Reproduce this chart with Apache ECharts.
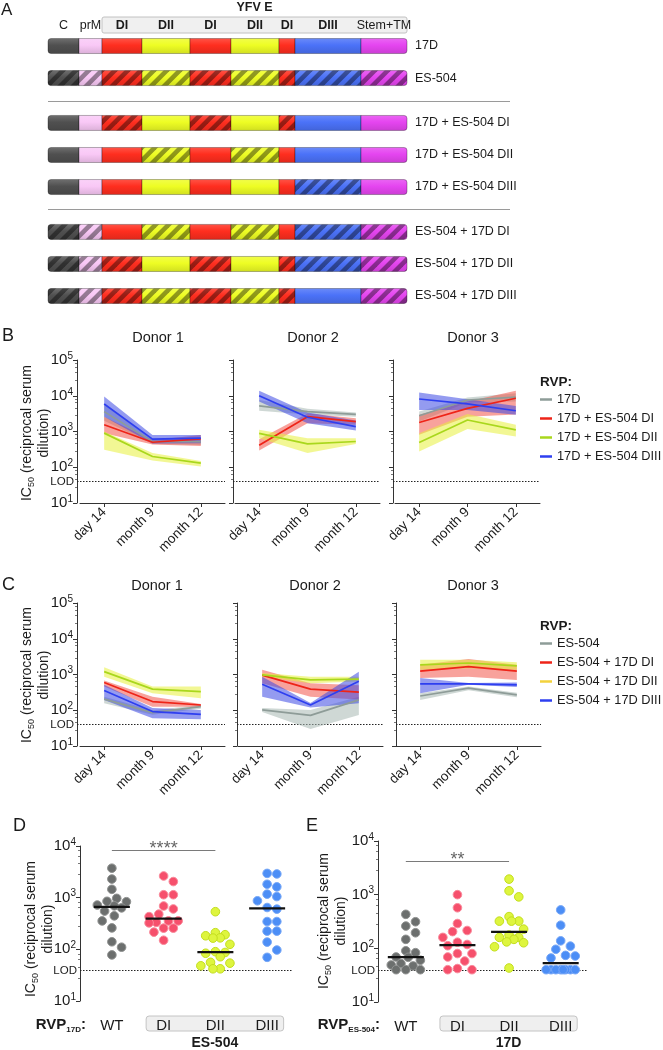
<!DOCTYPE html>
<html><head><meta charset="utf-8">
<script src="https://cdn.jsdelivr.net/npm/echarts@6/dist/echarts.min.js"></script>
<style>html,body{margin:0;padding:0;background:#fff}#c{width:663px;height:1050px}</style>
</head><body><div id="c"></div>
<script>
// ================= DATA =================
// Panel A: YFV genome segments
const segNames = ['C','prM','DI','DII','DI','DII','DI','DIII','Stem+TM'];
const segLengths = [31, 23, 40, 48, 41, 48, 16, 66, 46];
const constructNames = ['17D','ES-504','17D + ES-504 DI','17D + ES-504 DII','17D + ES-504 DIII','ES-504 + 17D DI','ES-504 + 17D DII','ES-504 + 17D DIII'];
const constructGroups = [0,0,1,1,1,2,2,2];
// 1 = segment from ES-504 (hatched), 0 = from 17D
const constructHatch = [
  [0,0,0,0,0,0,0,0,0],
  [1,1,1,1,1,1,1,1,1],
  [0,0,1,0,1,0,1,0,0],
  [0,0,0,1,0,1,0,0,0],
  [0,0,0,0,0,0,0,1,0],
  [1,1,0,1,0,1,0,1,1],
  [1,1,1,0,1,0,1,1,1],
  [1,1,1,1,1,1,1,0,1]
];
// Panels B / C
const timepoints = ['day 14','month 9','month 12'];
const donors = ['Donor 1','Donor 2','Donor 3'];
const rvpB = ['17D','17D + ES-504 DI','17D + ES-504 DII','17D + ES-504 DIII'];
const rvpC = ['ES-504','ES-504 + 17D DI','ES-504 + 17D DII','ES-504 + 17D DIII'];
const LOD = 40;
// per RVP (gray, red, yellow, blue), per timepoint
const b1Mid = [[3600,520,520],[1550,500,620],[900,200,130],[5900,610,650]];
const b1Lo  = [[2000,450,420],[900,430,390],[310,155,105],[2600,460,470]];
const b1Hi  = [[5500,620,650],[2600,580,800],[1000,250,150],[9500,800,800]];
const b2Mid = [[5200,3600,3000],[415,2600,1900],[890,450,525],[10000,2500,1370]];
const b2Lo  = [[3800,3000,2600],[295,1700,1540],[650,250,450],[6900,1700,1070]];
const b2Hi  = [[7600,4300,3400],[610,3200,2350],[1120,650,650],[13800,3400,2030]];
const b3Mid = [[2750,7600,9100],[1780,4450,8500],[490,2100,1110],[8100,5900,3800]];
const b3Lo  = [[1900,6500,6900],[810,2600,3000],[275,1170,720],[4000,4000,2950]];
const b3Hi  = [[3600,9000,11700],[2950,6900,13800],[890,3100,1540],[12400,8000,5200]];
const c1Mid = [[205,86,126],[600,175,140],[1200,390,330],[355,92,77]];
const c1Lo  = [[157,75,110],[460,126,125],[870,300,215],[195,60,56]];
const c1Hi  = [[240,100,140],[680,240,150],[1600,460,460],[515,115,102]];
const c2Mid = [[102,72,195],[960,390,320],[980,710,740],[535,140,650]];
const c2Lo  = [[90,30,74],[570,240,200],[870,570,640],[240,120,158]];
const c2Hi  = [[115,102,240],[1350,570,500],[1100,870,860],[870,160,1200]];
const c3Mid = [[250,415,270],[1240,1670,1240],[1870,2100,1740],[550,550,515]];
const c3Lo  = [[195,360,230],[800,870,700],[1350,1500,1350],[300,520,450]];
const c3Hi  = [[300,460,310],[1870,2700,1870],[2570,2600,2200],[800,580,600]];
// Panels D / E
const groupLabels = ['WT','DI','DII','DIII'];
const dWT   = [3720,2290,1450,970,850,835,720,695,635,550,445,355,260,140,110,78];
const dDI   = [2630,2050,1140,1140,690,605,480,430,355,355,333,325,257,257,215,150];
const dDII  = [535,210,192,183,167,165,125,90,87,84,72,56,54,48,42,42];
const dDIII = [2950,2880,1820,1620,1170,1050,870,645,600,345,345,225,225,138,97,70];
const eWT   = [430,313,260,195,147,90,83,69,68,60,52,49,47,40,40,40];
const eDI   = [1000,570,290,215,205,160,130,118,112,80,80,69,58,42,40,40];
const eDII  = [1950,1180,910,390,322,321,321,228,177,160,160,147,132,127,107,43];
const eDIII = [520,270,138,110,96,74,72,66,40,40,40,40,40,40,40,40];
const sigD = [0, 2, 8400]; const sigDLabel = '****';
const sigE = [0, 2, 4300]; const sigELabel = '**';

// ================= STYLE =================
const FONT = 'Liberation Sans, Arial, Helvetica, sans-serif';
const TXT = '#1b1b1b';
const segColors = ['#505050','#f9c8f6','#ff2e1f','#eefd24','#ff2e1f','#eefd24','#ff2e1f','#4b72f8','#e545f0'];
const lineColors = ['#8e9c98','#ee2418','#a9d71c','#2e3ff0'];
const bandColors = ['rgba(168,184,178,0.55)','rgba(242,70,58,0.5)','rgba(232,240,60,0.55)','rgba(60,72,228,0.55)'];
const legendC = ['#8e9c98','#ee2418','#f3d23c','#2e3ff0'];
const ptFill = ['#6c6f6e','#f6506c','#def53e','#4c8ef6'];
const ptStroke = ['#8f9190','#f98a9b','#c3de1e','#78a8f7'];

function hexMix(hex, target, t){
  const a = parseInt(hex.slice(1),16), b = parseInt(target.slice(1),16);
  const r = Math.round(((a>>16)&255)*(1-t)+((b>>16)&255)*t);
  const g = Math.round(((a>>8)&255)*(1-t)+((b>>8)&255)*t);
  const bl = Math.round((a&255)*(1-t)+(b&255)*t);
  return 'rgb('+r+','+g+','+bl+')';
}
function grad(c){
  return new echarts.graphic.LinearGradient(0,0,0,1,[
    {offset:0,color:hexMix(c,'#ffffff',0.18)},{offset:0.45,color:c},{offset:1,color:hexMix(c,'#000000',0.12)}]);
}
const hatchCanvas = (function(){
  const P = 13, c = document.createElement('canvas'); c.width = P; c.height = P;
  const g = c.getContext('2d'); g.fillStyle = 'rgba(0,0,0,0.4)';
  for (let k = 0; k <= 2; k++){ const x = k*P; g.beginPath(); g.moveTo(x,0); g.lineTo(x+P/2,0); g.lineTo(x-P/2,P); g.lineTo(x-P,P); g.closePath(); g.fill(); }
  return c;
})();
const hatch = {image: hatchCanvas, repeat: 'repeat'};

// ================= LAYOUT =================
const segStarts = []; let acc = 0; segLengths.forEach(l => { segStarts.push(acc); acc += l; });
const genomeLen = acc;
const rowPos = constructGroups.map((g,i) => i + 0.4*g);
const rowPx = 32.05;
const gA = {left:48, top:30, width:359, height:(rowPos[rowPos.length-1]+1)*rowPx};
const gB = [80,235,395].map(l => ({left:l, top:360, width:145, height:143}));
const gC = [80,238,396].map(l => ({left:l, top:603, width:145, height:143}));
const offB = [3,2,2], offC = [3,1,0];
const gD = {left:86, top:846, width:207, height:155};
const gE = {left:380, top:841, width:206.5, height:161};

const grids = [gA].concat(gB, gC, [gD, gE]).map(g => Object.assign({outerBoundsMode:'none', containLabel:false}, g));

function txt(text, x, y, o){
  o = o || {};
  return {type:'text', x:x, y:y, rotation:o.rotation||0, z:o.z||10, style:Object.assign({text:text, fill:o.color||TXT, fontSize:o.fontSize||14, fontFamily:FONT, fontWeight:o.bold?'bold':'normal', align:o.align||'center', verticalAlign:o.va||'middle', textAlign:o.align||'center', textVerticalAlign:o.va||'middle'}, o.extra||{})};
}

// ================= AXES =================
const xAxes = [], yAxes = [];
xAxes.push({gridIndex:0, type:'value', min:0, max:genomeLen, show:false});
yAxes.push({gridIndex:0, type:'value', min:-0.5, max:rowPos[rowPos.length-1]+0.5, inverse:true, show:false});
const logRich = {b:{fontSize:15, color:TXT, fontFamily:FONT, lineHeight:18}, s:{fontSize:10, color:TXT, fontFamily:FONT, lineHeight:10, verticalAlign:'top'}};
function logLabel(v){ return '{b|10}{s|' + Math.round(Math.log10(v)) + '}'; }
function logY(gi, max, showLabels, offset, split){
  return {gridIndex:gi, type:'log', logBase:10, min:10, max:max, splitNumber:split, offset:offset,
    axisLine:{show:true, lineStyle:{color:'#333', width:1}},
    axisTick:{show:true, length:4, lineStyle:{color:'#333', width:1}},
    minorTick:{show:true, splitNumber:5, length:2, lineStyle:{color:'#555', width:0.8}},
    splitLine:{show:false}, minorSplitLine:{show:false},
    axisLabel:{show:showLabels, formatter:logLabel, margin:4, rich:logRich}};
}
for (let p = 0; p < 2; p++){
  for (let d = 0; d < 3; d++){
    const gi = 1 + p*3 + d;
    xAxes.push({gridIndex:gi, type:'category', data:timepoints, boundaryGap:true,
      axisLine:{show:true, lineStyle:{color:'#333', width:1}},
      axisTick:{show:true, alignWithLabel:true, length:4, lineStyle:{color:'#333'}},
      axisLabel:{interval:0, rotate:45, fontSize:13.5, color:TXT, fontFamily:FONT, margin:7}});
    yAxes.push(logY(gi, 100000, d === 0, (p===0?offB:offC)[d], 4));
  }
}
[7,8].forEach(gi => {
  xAxes.push({gridIndex:gi, type:'category', data:groupLabels, boundaryGap:true,
    axisLine:{show:false}, axisTick:{show:false},
    axisLabel:{interval:0, fontSize:15, color:TXT, fontFamily:FONT, margin:17}});
  yAxes.push(logY(gi, 10000, true, gi===7?6:2, 3));
});

// ================= SERIES =================
const series = [];
// ---- Panel A: construct bars ----
const barData = [];
constructNames.forEach((n, r) => segLengths.forEach((l, s) => {
  barData.push([segStarts[s], segStarts[s]+l, rowPos[r], s, constructHatch[r][s], r]);
}));
series.push({type:'custom', xAxisIndex:0, yAxisIndex:0, silent:true, data:barData, encode:{x:[0,1], y:2},
  renderItem:function(params, api){
    const x0 = api.value(0), x1 = api.value(1), y = api.value(2), s = api.value(3), h = api.value(4), r = api.value(5);
    const p0 = api.coord([x0, y]), p1 = api.coord([x1, y]);
    const H = 15;
    const last = s === segLengths.length-1, first = s === 0;
    const rad = first ? [3,0,0,3] : (last ? [0,3,3,0] : 0);
    const shape = {x:p0[0], y:p0[1]-H/2, width:p1[0]-p0[0], height:H, r:rad};
    const ch = [{type:'rect', shape:shape, style:{fill:grad(segColors[s]), stroke:'rgba(0,0,0,0.5)', lineWidth:0.6}}];
    if (h) ch.push({type:'rect', shape:shape, style:{fill:hatch}});
    if (last) {
      ch.push({type:'text', x:p1[0]+8, y:p0[1], style:{text:constructNames[r], fill:TXT, fontSize:12.5, fontFamily:FONT, align:'left', verticalAlign:'middle', textAlign:'left', textVerticalAlign:'middle'}});
      if (r < constructNames.length-1 && constructGroups[r+1] !== constructGroups[r]) {
        const ym = api.coord([0, (rowPos[r]+rowPos[r+1])/2]);
        ch.push({type:'line', shape:{x1:ym[0], y1:Math.round(ym[1])+0.5, x2:p1[0]+103, y2:Math.round(ym[1])+0.5}, style:{stroke:'#9a9a9a', lineWidth:1}});
      }
    }
    return {type:'group', children:ch};
  }});
// header labels
series.push({type:'custom', xAxisIndex:0, yAxisIndex:0, silent:true, z:3,
  data:segNames.map((n,s) => [segStarts[s], segStarts[s]+segLengths[s], s]), encode:{x:[0,1]},
  renderItem:function(params, api){
    const s = api.value(2);
    const yRow = api.coord([0, rowPos[0]])[1];
    const a = api.coord([api.value(0), rowPos[0]]), b = api.coord([api.value(1), rowPos[0]]);
    const ch = [];
    if (s === 2) {
      const e = api.coord([genomeLen, rowPos[0]]);
      ch.push({type:'rect', shape:{x:a[0], y:yRow-29, width:e[0]-a[0], height:16, r:2}, style:{fill:'#f0f0f0', stroke:'#c2c2c2', lineWidth:1}});
      ch.push({type:'text', x:(a[0]+e[0])/2, y:yRow-38, style:{text:'YFV E', fill:TXT, fontSize:12.5, fontWeight:'bold', fontFamily:FONT, align:'center', verticalAlign:'middle', textAlign:'center', textVerticalAlign:'middle'}});
    }
    const bold = /^D/.test(segNames[s]);
    ch.push({type:'text', x:(a[0]+b[0])/2, y:yRow-20, style:{text:segNames[s], fill:TXT, fontSize:12.5, fontWeight:bold?'bold':'normal', fontFamily:FONT, align:'center', verticalAlign:'middle', textAlign:'center', textVerticalAlign:'middle'}});
    return {type:'group', children:ch};
  }});

// ---- Panels B / C ----
function bandRender(lo, hi, color){
  return function(params, api){
    if (params.dataIndex !== 0) return null;
    const top = [], bot = [];
    for (let i = 0; i < lo.length; i++){ top.push(api.coord([i, hi[i]])); bot.push(api.coord([i, lo[i]])); }
    return {type:'polygon', shape:{points:top.concat(bot.reverse())}, style:{fill:color}};
  };
}
function lodRender(showLabel, axisOff){
  return function(params, api){
    const cs = params.coordSys;
    const y = Math.round(api.coord([0, api.value(1)])[1]) + 0.5;
    const x0 = cs.x - axisOff;
    const ch = [{type:'line', shape:{x1:x0, y1:y, x2:cs.x+cs.width, y2:y}, style:{stroke:'#222', lineWidth:1, lineDash:[1.5,1.5]}}];
    if (showLabel) ch.push({type:'text', x:x0-3, y:y, style:{text:'LOD', fill:TXT, fontSize:11.5, fontFamily:FONT, align:'right', verticalAlign:'middle', textAlign:'right', textVerticalAlign:'middle'}});
    return {type:'group', children:ch};
  };
}
const panelsBC = [
  {names:rvpB, mid:[b1Mid,b2Mid,b3Mid], lo:[b1Lo,b2Lo,b3Lo], hi:[b1Hi,b2Hi,b3Hi], off:offB},
  {names:rvpC, mid:[c1Mid,c2Mid,c3Mid], lo:[c1Lo,c2Lo,c3Lo], hi:[c1Hi,c2Hi,c3Hi], off:offC}
];
panelsBC.forEach((P, p) => {
  for (let d = 0; d < 3; d++){
    const gi = 1 + p*3 + d;
    series.push({type:'custom', xAxisIndex:gi, yAxisIndex:gi, silent:true, z:1, data:[[0, LOD]], encode:{x:0, y:1},
      renderItem:lodRender(d === 0, P.off[d])});
    P.names.forEach((n, k) => {
      const lo = P.lo[d][k], hi = P.hi[d][k];
      series.push({type:'custom', name:n+' band', xAxisIndex:gi, yAxisIndex:gi, silent:true, z:2,
        data:timepoints.map((t,i) => [i, lo[i], hi[i]]), encode:{x:0, y:[1,2]},
        renderItem:bandRender(lo, hi, bandColors[k])});
    });
    P.names.forEach((n, k) => {
      series.push({type:'line', name:n, xAxisIndex:gi, yAxisIndex:gi, data:P.mid[d][k], symbol:'none', silent:true, z:4,
        lineStyle:{width:1.7, color:lineColors[k]}, itemStyle:{color:lineColors[k]}});
    });
  }
});

// ---- Panels D / E ----
// beeswarm layout: greedy placement on half-diameter slots, compressed when crowded
function swarm(ys, d, maxHalf){
  const order = ys.map((y,i) => i).sort((a,b) => ys[a]-ys[b]);
  const off = new Array(ys.length).fill(0);
  const placed = [];
  const coarse = [0]; for (let k = 1; k*d/2 <= maxHalf+0.01; k++) coarse.push(k*d/2, -k*d/2);
  const fine = [0]; for (let k = 1; k*d/4 <= maxHalf+0.01; k++) fine.push(k*d/4, -k*d/4);
  function minDist(x, y){ let m = Infinity; placed.forEach(p => { m = Math.min(m, Math.hypot(p[0]-x, p[1]-y)); }); return m; }
  order.forEach(i => {
    const y = ys[i]; let chosen = null;
    for (const x of coarse){ if (minDist(x, y) >= d*0.97){ chosen = x; break; } }
    if (chosen === null){
      let best = -1;
      fine.forEach(x => { const m = minDist(x, y); if (m > best + 0.01){ best = m; chosen = x; } });
    }
    off[i] = chosen; placed.push([chosen, y]);
  });
  return off;
}
function median(a){ const s = a.slice().sort((x,y)=>x-y); const n = s.length; return n%2 ? s[(n-1)/2] : (s[n/2-1]+s[n/2])/2; }
const panelsDE = [
  {gi:7, groups:[dWT,dDI,dDII,dDIII], sig:sigD, sigLabel:sigDLabel, off:6},
  {gi:8, groups:[eWT,eDI,eDII,eDIII], sig:sigE, sigLabel:sigELabel, off:2}
];
panelsDE.forEach(P => {
  series.push({type:'custom', xAxisIndex:P.gi, yAxisIndex:P.gi, silent:true, z:1, data:[[0, LOD]], encode:{x:0, y:1},
    renderItem:lodRender(true, P.off)});
  P.groups.forEach((vals, g) => {
    series.push({type:'custom', xAxisIndex:P.gi, yAxisIndex:P.gi, silent:true, z:3,
      data:vals.map(v => [g, v]), encode:{x:0, y:1},
      renderItem:function(params, api){
        const ys = vals.map(v => api.coord([g, v])[1]);
        const offs = swarm(ys, 9.7, 15.5);
        const c = api.coord([g, api.value(1)]);
        return {type:'circle', shape:{cx:c[0]+offs[params.dataIndex], cy:c[1], r:4.3}, style:{fill:ptFill[g], stroke:ptStroke[g], lineWidth:1}};
      }});
  });
  series.push({type:'custom', xAxisIndex:P.gi, yAxisIndex:P.gi, silent:true, z:5,
    data:P.groups.map((v,g) => [g, median(v)]), encode:{x:0, y:1},
    renderItem:function(params, api){
      const c = api.coord([api.value(0), api.value(1)]);
      return {type:'line', shape:{x1:c[0]-18, y1:c[1], x2:c[0]+18, y2:c[1]}, style:{stroke:'#111', lineWidth:2.2}};
    }});
  series.push({type:'custom', xAxisIndex:P.gi, yAxisIndex:P.gi, silent:true, z:5,
    data:[P.sig], encode:{x:0, y:2},
    renderItem:function(params, api){
      const a = api.coord([api.value(0), api.value(2)]), b = api.coord([api.value(1), api.value(2)]);
      const y = Math.round(a[1]) + 0.5;
      return {type:'group', children:[
        {type:'line', shape:{x1:a[0], y1:y, x2:b[0], y2:y}, style:{stroke:'#7a7a7a', lineWidth:1.2}},
        {type:'text', x:(a[0]+b[0])/2, y:y-1, style:{text:P.sigLabel, fill:'#666666', fontSize:18, fontFamily:FONT, align:'center', verticalAlign:'middle', textAlign:'center', textVerticalAlign:'middle'}}]};
    }});
});

// ================= GRAPHIC (labels) =================
const graphic = [];
graphic.push(txt('A', 1, 10, {fontSize:17, align:'left'}));
graphic.push(txt('B', 2, 336, {fontSize:18, align:'left'}));
graphic.push(txt('C', 2, 585, {fontSize:18, align:'left'}));
graphic.push(txt('D', 13, 826, {fontSize:18, align:'left'}));
graphic.push(txt('E', 306, 826, {fontSize:18, align:'left'}));
const yNameRich = {a:{fontSize:14, fontFamily:FONT, color:TXT, lineHeight:17}, s:{fontSize:9, fontFamily:FONT, color:TXT, lineHeight:9, verticalAlign:'bottom'}};
const yNameText = '{a|IC}{s|50}{a| (reciprocal serum}\n{a|dilution)}';
function yName(x, y){ return txt(yNameText, x, y, {rotation:Math.PI/2, extra:{rich:yNameRich}}); }
graphic.push(yName(36, 433));
graphic.push(yName(36, 675));
graphic.push(yName(40, 929));
graphic.push(yName(333, 921));
gB.forEach((g, d) => graphic.push(txt(donors[d], g.left+78, 338, {fontSize:14.5})));
gC.forEach((g, d) => graphic.push(txt(donors[d], g.left+77, 586, {fontSize:14.5})));
graphic.push(txt('RVP:', 540, 382, {fontSize:13.5, bold:true, align:'left'}));
graphic.push(txt('RVP:', 540, 626, {fontSize:13.5, bold:true, align:'left'}));
const rvpRich = {r:{fontSize:15, fontWeight:'bold', fontFamily:FONT, color:TXT, lineHeight:18}, s:{fontSize:8, fontWeight:'bold', fontFamily:FONT, color:TXT, lineHeight:8, verticalAlign:'bottom'}};
graphic.push(txt('{r|RVP}{s|17D}{r|:}', 86, 1025, {align:'right', extra:{rich:rvpRich}}));
graphic.push(txt('{r|RVP}{s|ES-504}{r|:}', 380, 1025, {align:'right', extra:{rich:rvpRich}}));
[[gD,'ES-504'],[gE,'17D']].forEach(([g, lab]) => {
  const cw = g.width/4;
  const x0 = g.left + 1.5*cw - 17.5, x1 = g.left + 3.5*cw + 16.5;
  graphic.push({type:'rect', z:-5, shape:{x:x0, y:1016, width:x1-x0, height:15, r:3}, style:{fill:'#efefef', stroke:'#c4c4c4', lineWidth:1}});
  graphic.push(txt(lab, (x0+x1)/2, 1043, {fontSize:14, bold:true}));
});

// ================= OPTION =================
const legendBase = {orient:'vertical', left:540, icon:'rect', itemWidth:12, itemHeight:2.5, itemGap:4, padding:0, selectedMode:false,
  textStyle:{fontSize:12.8, color:TXT, fontFamily:FONT, lineHeight:15}};
const option = {
  animation:false,
  backgroundColor:'#ffffff',
  textStyle:{fontFamily:FONT},
  grid:grids,
  xAxis:xAxes,
  yAxis:yAxes,
  legend:[
    Object.assign({}, legendBase, {top:392, data:rvpB.map((n,i) => ({name:n, itemStyle:{color:lineColors[i]}}))}),
    Object.assign({}, legendBase, {top:636, data:rvpC.map((n,i) => ({name:n, itemStyle:{color:legendC[i]}}))})
  ],
  graphic:graphic,
  series:series
};
const chart = echarts.init(document.getElementById('c'), null, {renderer:'canvas', width:663, height:1050});
chart.setOption(option);
</script>
</body></html>
